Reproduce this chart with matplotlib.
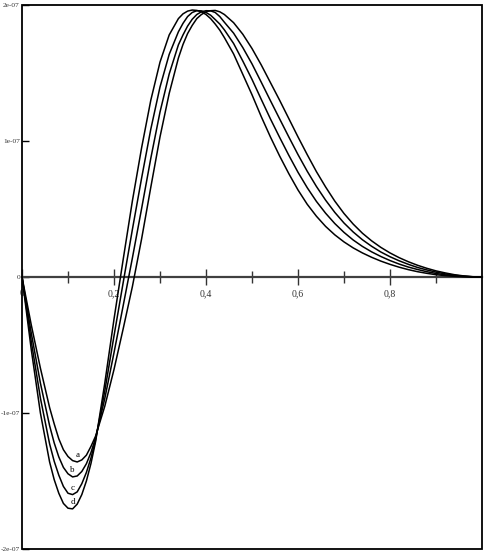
import matplotlib.pyplot as plt
import numpy as np
from matplotlib.patches import Rectangle

plt.rcParams['font.family'] = ['Liberation Serif', 'DejaVu Serif']

# sample positions and curve values (units of 1e-7)
x = [0.00, 0.02, 0.04, 0.06, 0.07, 0.08, 0.09, 0.10, 0.11, 0.12, 0.13, 0.14, 0.15, 0.16,
     0.18, 0.20, 0.22, 0.24, 0.26, 0.28, 0.30, 0.32, 0.34,
     0.35, 0.36, 0.37, 0.38, 0.39, 0.40, 0.41, 0.42, 0.43, 0.44,
     0.46, 0.48, 0.50, 0.52, 0.54, 0.56, 0.58, 0.60, 0.62, 0.64,
     0.66, 0.68, 0.70, 0.72, 0.74, 0.76, 0.78, 0.80, 0.82, 0.84,
     0.86, 0.88, 0.90, 0.92, 0.94, 0.96, 0.98, 1.00]

curve_a = [0, -0.35, -0.67, -0.96, -1.08, -1.19, -1.27, -1.32, -1.35, -1.36, -1.345, -1.31, -1.245, -1.17,
           -0.95, -0.68, -0.38, -0.07, 0.28, 0.66, 1.03, 1.35, 1.61,
           1.71, 1.79, 1.85, 1.90, 1.93, 1.95, 1.958, 1.96, 1.95, 1.93,
           1.87, 1.785, 1.68, 1.56, 1.43, 1.30, 1.165, 1.03, 0.90, 0.775,
           0.662, 0.558, 0.467, 0.389, 0.322, 0.266, 0.218, 0.177, 0.142, 0.112,
           0.086, 0.064, 0.045, 0.030, 0.017, 0.008, 0.002, 0]

curve_b = [0, -0.41, -0.78, -1.093, -1.22, -1.323, -1.40, -1.447, -1.47, -1.463, -1.43, -1.373, -1.29, -1.183,
           -0.893, -0.557, -0.21, 0.14, 0.503, 0.873, 1.213, 1.493, 1.707,
           1.78, 1.845, 1.895, 1.93, 1.95, 1.958, 1.957, 1.945, 1.915, 1.873,
           1.793, 1.687, 1.567, 1.433, 1.297, 1.163, 1.03, 0.90, 0.778, 0.666,
           0.565, 0.475, 0.397, 0.331, 0.274, 0.226, 0.184, 0.149, 0.119, 0.093,
           0.070, 0.052, 0.036, 0.023, 0.013, 0.006, 0.0015, 0]

curve_c = [0, -0.47, -0.89, -1.227, -1.355, -1.457, -1.54, -1.59, -1.60, -1.58, -1.52, -1.437, -1.33, -1.197,
           -0.837, -0.433, -0.04, 0.35, 0.727, 1.087, 1.397, 1.637, 1.803,
           1.865, 1.915, 1.945, 1.958, 1.957, 1.945, 1.925, 1.893, 1.86, 1.817,
           1.717, 1.588, 1.453, 1.307, 1.163, 1.027, 0.895, 0.77, 0.657, 0.556,
           0.469, 0.393, 0.328, 0.272, 0.225, 0.185, 0.151, 0.121, 0.095, 0.073,
           0.055, 0.039, 0.026, 0.016, 0.009, 0.004, 0.001, 0]

curve_d = [0, -0.53, -1.00, -1.36, -1.49, -1.59, -1.665, -1.70, -1.705, -1.67, -1.60, -1.50, -1.37, -1.21,
           -0.78, -0.31, 0.13, 0.56, 0.95, 1.30, 1.58, 1.78, 1.90,
           1.935, 1.955, 1.963, 1.96, 1.95, 1.93, 1.90, 1.86, 1.815, 1.76,
           1.64, 1.49, 1.34, 1.18, 1.03, 0.89, 0.76, 0.64, 0.535, 0.447,
           0.372, 0.31, 0.258, 0.214, 0.177, 0.145, 0.117, 0.093, 0.072, 0.054,
           0.039, 0.027, 0.017, 0.010, 0.005, 0.002, 0.0004, 0]

curve_names = ['a', 'b', 'c', 'd']
scale = 1e-7

xticks = [0, 0.2, 0.4, 0.6, 0.8]
xtick_labels = ['0', '0,2', '0,4', '0,6', '0,8']
xticks_minor = [0.1, 0.3, 0.5, 0.7, 0.9]
yticks = [-2e-7, -1e-7, 0, 1e-7, 2e-7]
ytick_labels = ['-2e-07', '-1e-07', '0', '1e-07', '2e-07']

fig = plt.figure(figsize=(4.85, 5.54), dpi=100)
ax = fig.add_axes([22 / 485, 5 / 554, 460 / 485, 544 / 554])

xs = np.array(x)
for name, vals in zip(curve_names, [curve_a, curve_b, curve_c, curve_d]):
    ys = np.array(vals) * scale
    ax.plot(xs, ys, color='black', lw=1.1, zorder=3)
    i = np.argmin(ys)
    ax.annotate(name, (xs[i], ys[i]), xytext=(0, 2), textcoords='offset points',
                ha='center', va='bottom', fontsize=6.5)

ax.set_xlim(0, 1)
ax.set_ylim(-2e-7, 2e-7)

# x axis runs through y=0, box drawn separately
for s in ['top', 'right', 'left']:
    ax.spines[s].set_visible(False)
ax.spines['bottom'].set_position(('data', 0))
ax.spines['bottom'].set_color('#404040')
ax.spines['bottom'].set_linewidth(1.6)
ax.add_patch(Rectangle((0, 0), 1, 1, transform=ax.transAxes, fill=False,
                       edgecolor='black', lw=1.3, clip_on=False, zorder=4))

ax.set_xticks(xticks)
ax.set_xticklabels(xtick_labels)
ax.set_xticks(xticks_minor, minor=True)
ax.tick_params(axis='x', which='major', direction='inout', length=12, width=1,
               color='#333333', pad=3, labelsize=7, labelcolor='#333333')
ax.tick_params(axis='x', which='minor', direction='inout', length=8, width=1,
               color='#333333')

ax.set_yticks(yticks)
ax.set_yticklabels(ytick_labels)
ax.tick_params(axis='y', direction='in', length=5, width=1, pad=1.5,
               labelsize=5.3, labelcolor='#333333')

fig.savefig('out.png', dpi=100)
